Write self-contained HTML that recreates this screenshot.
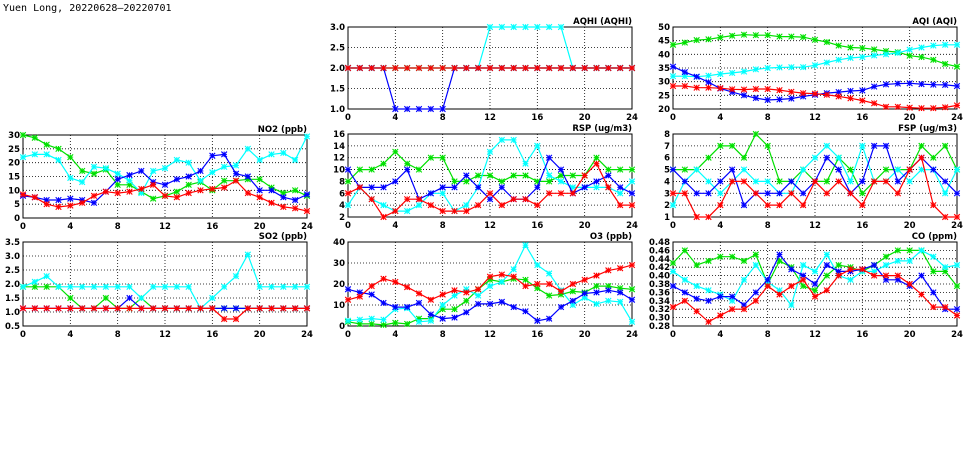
<!DOCTYPE html>
<html><head><meta charset="utf-8"><style>
body{margin:0;background:#fff;width:975px;height:447px;overflow:hidden}
svg text{font-family:"DejaVu Sans","Liberation Sans",sans-serif;font-weight:bold;font-size:8.5px;fill:#000}
</style></head><body>
<svg id="chart" width="975" height="447" xmlns="http://www.w3.org/2000/svg">
<text x="3" y="11" style="font-family:'DejaVu Sans Mono','Liberation Mono',monospace;font-size:10px;font-weight:normal">Yuen Long, 20220628–20220701</text>
</svg>
<script>
const hours=[0,1,2,3,4,5,6,7,8,9,10,11,12,13,14,15,16,17,18,19,20,21,22,23,24];
const xTicks=[0,4,8,12,16,20,24];
const no2Green=[30,29,26.5,25,22,17,16,17.5,12,12,9.5,7,8,9.5,12,13,10,13.5,13.5,14,14,11,9,10,8];
const no2Cyan=[22,23,23,21,14.5,13,18.5,18,16,13.5,9,17,18,21,20,13.5,16.5,18.5,19,25,21,23,23.5,21,29.5];
const no2Blue=[8,7.5,6.5,6.5,7,6.5,5.5,9.5,14,15.5,17,13,12,14,15,17,22.5,23,16,15,10,10,7.5,6.5,8.5];
const no2Red=[8.5,7.5,5,4,4.5,5.5,8,9.5,9,9.5,10.5,12,8,7.5,9,10,10.5,11,13.5,9,7.5,5.5,4,3.5,2.5];
const so2Green=[1.9,1.9,1.9,1.9,1.5,1.13,1.13,1.5,1.13,1.13,1.5,1.13,1.13,1.13,1.13,1.13,1.13,1.13,1.13,1.13,1.13,1.13,1.13,1.13,1.13];
const so2Cyan=[1.9,2.08,2.28,1.9,1.9,1.9,1.9,1.9,1.9,1.9,1.5,1.9,1.9,1.9,1.9,1.13,1.5,1.9,2.28,3.05,1.9,1.9,1.9,1.9,1.9];
const so2Blue=[1.13,1.13,1.13,1.13,1.13,1.13,1.13,1.13,1.13,1.5,1.13,1.13,1.13,1.13,1.13,1.13,1.13,1.13,1.13,1.13,1.13,1.13,1.13,1.13,1.13];
const so2Red=[1.13,1.13,1.13,1.13,1.13,1.13,1.13,1.13,1.13,1.13,1.13,1.13,1.13,1.13,1.13,1.13,1.13,0.75,0.75,1.13,1.13,1.13,1.13,1.13,1.13];
const aqhiGreen=[2,2,2,2,2,2,2,2,2,2,2,2,2,2,2,2,2,2,2,2,2,2,2,2,2];
const aqhiCyan=[2,2,2,2,2,2,2,2,2,2,2,2,3,3,3,3,3,3,3,2,2,2,2,2,2];
const aqhiBlue=[2,2,2,2,1,1,1,1,1,2,2,2,2,2,2,2,2,2,2,2,2,2,2,2,2];
const aqhiRed=[2,2,2,2,2,2,2,2,2,2,2,2,2,2,2,2,2,2,2,2,2,2,2,2,2];
const rspGreen=[8,10,10,11,13,11,10,12,12,8,8,9,9,8,9,9,8,8,9,9,9,12,10,10,10];
const rspCyan=[4,7,5,4,3,3,4,6,6,3,4,7,13,15,15,11,14,9,8,7,7,7,7,6,8];
const rspBlue=[10,7,7,7,8,10,5,6,7,7,9,7,5,7,5,5,7,12,10,6,7,8,9,7,6];
const rspRed=[6,7,5,2,3,5,5,4,3,3,3,4,6,4,5,5,4,6,6,6,9,11,7,4,4];
const o3Green=[2,1,1,0.5,1.5,1,3.5,3.5,8,8,12,17.5,22,21,22.5,22,18,14.5,15,16.5,16,19,19,18,17.5];
const o3Cyan=[2.5,3,3.5,3,8,8.5,2,2.5,10,14.5,17.5,14.5,19,21,27,38.5,29,25,17,10,13.5,10.5,12,11.5,2];
const o3Blue=[17.5,16,15,11,9,9,11,5.5,3.5,4,6.5,10.5,10.5,11.5,9,7,2.5,3.5,9,12,15.5,16,17,16,12.5];
const o3Red=[12.5,14,19,22.5,21,18.5,15.5,12.5,15,17,16,17.5,23.5,24.5,23.5,19,20,20,16.5,20,22,24,26.5,27.5,29];
const aqiGreen=[43.5,44.3,45.2,45.5,46.2,46.8,47.2,47,47,46.5,46.5,46.3,45.3,44.5,43.2,42.5,42.3,41.8,41.2,40.8,39.5,39,38,36.5,35.5];
const aqiCyan=[32,32,31.8,32.2,32.8,33.2,33.7,34.5,35,35.2,35.3,35.3,36,37,38,38.7,39,39.6,40,40.5,41.7,42.5,43.2,43.5,43.5];
const aqiBlue=[35.5,33.5,31.8,29.8,27.5,26.2,25,24,23.3,23.5,23.8,24.6,25.2,25.8,26.2,26.6,26.8,28.2,29,29.3,29.4,29.1,28.9,28.8,28.4];
const aqiRed=[28.4,28.4,27.8,27.8,27.6,27.2,27.1,27.3,27.3,26.9,26.3,25.8,25.6,25.2,24.6,23.9,23.1,22.1,20.8,20.8,20.5,20.3,20.3,20.6,21.3];
const fspGreen=[5,5,5,6,7,7,6,8,7,4,4,5,4,4,6,5,3,4,5,5,5,7,6,7,5];
const fspCyan=[2,4,5,4,3,4,5,4,4,3,3,5,6,7,6,4,7,4,4,5,4,5,5,3,5];
const fspBlue=[5,4,3,3,4,5,2,3,3,3,4,3,4,6,5,3,4,7,7,4,5,6,5,4,3];
const fspRed=[3,3,1,1,2,4,4,3,2,2,3,2,4,3,4,3,2,4,4,3,5,6,2,1,1];
const coGreen=[.43,.46,.425,.435,.445,.445,.435,.45,.38,.435,.42,.375,.365,.40,.425,.42,.41,.425,.445,.46,.46,.46,.41,.41,.375];
const coCyan=[.41,.39,.375,.365,.355,.34,.39,.425,.385,.365,.33,.425,.41,.45,.40,.39,.41,.41,.425,.435,.435,.46,.445,.42,.425];
const coBlue=[.375,.36,.345,.34,.35,.35,.33,.36,.39,.45,.415,.40,.38,.425,.41,.41,.415,.425,.39,.39,.375,.40,.36,.32,.32];
const coRed=[.325,.34,.315,.29,.305,.32,.32,.34,.375,.355,.375,.39,.35,.365,.40,.415,.415,.40,.40,.40,.38,.355,.325,.325,.305];
const no2Ticks=["0","5","10","15","20","25","30"];
const so2Ticks=["0.5","1.0","1.5","2.0","2.5","3.0","3.5"];
const aqhiTicks=["1.0","1.5","2.0","2.5","3.0"];
const rspTicks=["2","4","6","8","10","12","14","16"];
const o3Ticks=["0","10","20","30","40"];
const aqiTicks=["20","25","30","35","40","45","50"];
const fspTicks=["1","2","3","4","5","6","7","8"];
const coTicks=["0.28","0.30","0.32","0.34","0.36","0.38","0.40","0.42","0.44","0.46","0.48"];

const NS="http://www.w3.org/2000/svg";
const svg=document.getElementById('chart');
function mk(t,a,p){const e=document.createElementNS(NS,t);for(const k in a)e.setAttribute(k,a[k]);(p||svg).appendChild(e);return e;}
const panels=[
 {name:'no2',title:'NO2 (ppb)',x0:23,x1:307,yt:135,yb:218,ticks:no2Ticks,s:[[no2Green,'#00e000'],[no2Cyan,'#00ffff'],[no2Blue,'#0000ff'],[no2Red,'#ff0000']]},
 {name:'so2',title:'SO2 (ppb)',x0:23,x1:307,yt:242,yb:326,ticks:so2Ticks,s:[[so2Green,'#00e000'],[so2Cyan,'#00ffff'],[so2Blue,'#0000ff'],[so2Red,'#ff0000']]},
 {name:'aqhi',title:'AQHI (AQHI)',x0:348,x1:632,yt:27,yb:109,ticks:aqhiTicks,s:[[aqhiGreen,'#00e000'],[aqhiCyan,'#00ffff'],[aqhiBlue,'#0000ff'],[aqhiRed,'#ff0000']]},
 {name:'rsp',title:'RSP (ug/m3)',x0:348,x1:632,yt:134,yb:217,ticks:rspTicks,s:[[rspGreen,'#00e000'],[rspCyan,'#00ffff'],[rspBlue,'#0000ff'],[rspRed,'#ff0000']]},
 {name:'o3',title:'O3 (ppb)',x0:348,x1:632,yt:242,yb:326,ticks:o3Ticks,s:[[o3Green,'#00e000'],[o3Cyan,'#00ffff'],[o3Blue,'#0000ff'],[o3Red,'#ff0000']]},
 {name:'aqi',title:'AQI (AQI)',x0:673,x1:957,yt:27,yb:109,ticks:aqiTicks,s:[[aqiGreen,'#00e000'],[aqiCyan,'#00ffff'],[aqiBlue,'#0000ff'],[aqiRed,'#ff0000']]},
 {name:'fsp',title:'FSP (ug/m3)',x0:673,x1:957,yt:134,yb:217,ticks:fspTicks,s:[[fspGreen,'#00e000'],[fspCyan,'#00ffff'],[fspBlue,'#0000ff'],[fspRed,'#ff0000']]},
 {name:'co',title:'CO (ppm)',x0:673,x1:957,yt:242,yb:326,ticks:coTicks,s:[[coGreen,'#00e000'],[coCyan,'#00ffff'],[coBlue,'#0000ff'],[coRed,'#ff0000']]}
];
const sNames=['green','cyan','blue','red'];
panels.forEach(p=>{
 const g=mk('g',{});
 
 
 const lo=parseFloat(p.ticks[0]),hi=parseFloat(p.ticks[p.ticks.length-1]);
 const X=v=>p.x0+(v-hours[0])/(hours[hours.length-1]-hours[0])*(p.x1-p.x0);
 const Y=v=>p.yb-(v-lo)/(hi-lo)*(p.yb-p.yt);
 p.ticks.forEach(t=>{const y=Y(parseFloat(t));
  if(y>p.yt+0.5&&y<p.yb-0.5)mk('line',{x1:p.x0,x2:p.x1,y1:y,y2:y,stroke:'#000','stroke-width':0.8,'stroke-dasharray':'1,2'},g);
  const tx=mk('text',{x:p.x0-3,y:y+3,'text-anchor':'end'},g);tx.textContent=t;
  
  });
 xTicks.forEach(t=>{const x=X(t);
  if(t>0&&t<24)mk('line',{x1:x,x2:x,y1:p.yt,y2:p.yb,stroke:'#000','stroke-width':0.8,'stroke-dasharray':'1,2'},g);
  const tx=mk('text',{x:x,y:p.yb+11,'text-anchor':'middle'},g);tx.textContent=t;
  
  });
 mk('rect',{x:p.x0,y:p.yt,width:p.x1-p.x0,height:p.yb-p.yt,fill:'none',stroke:'#000','stroke-width':1},g);
 const tt=mk('text',{x:p.x1,y:p.yt-3,'text-anchor':'end'},g);tt.textContent=p.title;
 
 
 p.s.forEach((s,i)=>{
  const vals=s[0],c=s[1];
  const pts=vals.map((v,j)=>X(hours[j]).toFixed(1)+','+Y(v).toFixed(1)).join(' ');
  const pl=mk('polyline',{points:pts,fill:'none',stroke:c,'stroke-width':1.2},g);
  
  
  vals.forEach((v,j)=>{const x=X(hours[j]),y=Y(v),r=2.8;
   const m=mk('path',{d:`M${x-r},${y-r}L${x+r},${y+r}M${x-r},${y+r}L${x+r},${y-r}M${x-r},${y}L${x+r},${y}M${x},${y-r}L${x},${y+r}`,stroke:c,'stroke-width':1.1},g);
   
   });
 });
});
</script>
</body></html>
